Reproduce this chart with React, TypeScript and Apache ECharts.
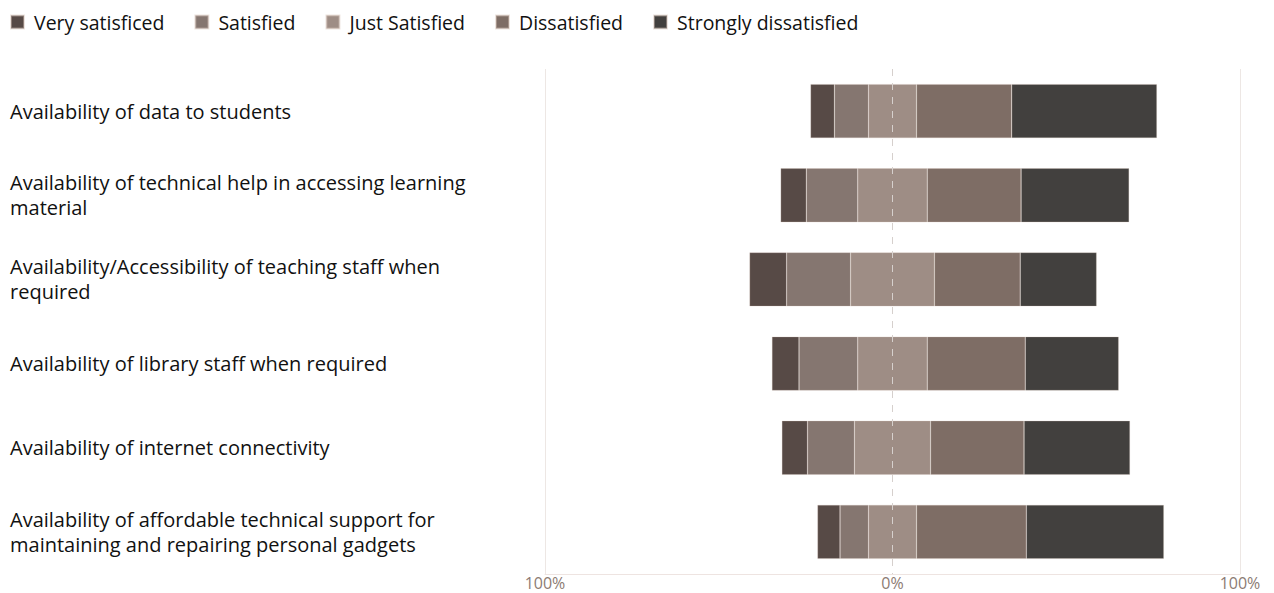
import React, { useEffect, useRef } from "react";
import * as echarts from "echarts";

const categories = [
  "Availability of data to students",
  "Availability of technical help in accessing learning material",
  "Availability/Accessibility of teaching staff when required",
  "Availability of library staff when required",
  "Availability of internet connectivity",
  "Availability of affordable technical support for maintaining and repairing personal gadgets",
];

const seriesNames = [
  "Very satisficed",
  "Satisfied",
  "Just Satisfied",
  "Dissatisfied",
  "Strongly dissatisfied",
];

const verySatisfied = [6.9, 7.4, 10.7, 7.8, 7.4, 6.5];
const satisfied = [9.8, 14.8, 18.4, 16.9, 13.5, 8.2];
const justSatisfied = [13.8, 20.0, 24.1, 20.0, 21.9, 13.8];
const dissatisfied = [27.4, 27.0, 24.7, 28.2, 26.9, 31.6];
const stronglyDissatisfied = [41.8, 31.1, 22.0, 26.9, 30.5, 39.6];

const tickLabels = ["100%", "0%", "100%"];

const colors = ["#574a46", "#857670", "#9e8d85", "#7e6d65", "#42403e"];

export default function App() {
  const ref = useRef<HTMLDivElement>(null);
  useEffect(() => {
    if (!ref.current) return;
    const chart = echarts.init(ref.current, undefined, { renderer: "svg" });
    const values = [verySatisfied, satisfied, justSatisfied, dissatisfied, stronglyDissatisfied];
    const offset = categories.map(
      (_, i) => -(verySatisfied[i] + satisfied[i] + justSatisfied[i] / 2)
    );
    const font = "'Open Sans', 'Noto Sans', sans-serif";
    const series: any[] = [
      {
        name: "offset",
        type: "bar",
        stack: "total",
        stackStrategy: "all",
        barWidth: 54,
        data: offset,
        itemStyle: { color: "rgba(0,0,0,0)" },
        silent: true,
        markLine: {
          silent: true,
          symbol: "none",
          label: { show: false },
          lineStyle: { type: [7, 7], color: "#d6d0cd", width: 1 },
          data: [{ xAxis: 0 }],
        },
      },
    ];
    seriesNames.forEach((name, k) => {
      series.push({
        name,
        type: "bar",
        stack: "total",
        stackStrategy: "all",
        barWidth: 54,
        data: values[k],
        itemStyle: {
          color: colors[k],
          borderColor: "rgba(215,195,185,0.45)",
          borderWidth: 0.6,
        },
      });
    });
    chart.setOption({
      animation: false,
      legend: {
        data: seriesNames,
        left: 10,
        top: 12,
        padding: 0,
        icon: "rect",
        itemWidth: 13,
        itemHeight: 13,
        itemGap: 30,
        textStyle: { fontSize: 19.5, color: "#111", fontFamily: font, padding: [0, 0, 0, 5] },
      },
      grid: { left: 545, right: 34, top: 69, bottom: 19, containLabel: false },
      xAxis: {
        type: "value",
        min: -100,
        max: 100,
        interval: 100,
        axisLine: { show: true, lineStyle: { color: "#eee4e1" } },
        axisTick: { show: false },
        splitLine: {
          show: true,
          lineStyle: { color: ["#ede7e4", "rgba(0,0,0,0)", "#ede7e4"] },
        },
        axisLabel: {
          formatter: (v: number) => tickLabels[Math.round((v + 100) / 100)],
          color: "#8c7b73",
          fontSize: 16,
          lineHeight: 14,
          fontFamily: font,
          margin: 2,
        },
      },
      yAxis: {
        type: "category",
        inverse: true,
        data: categories,
        axisLine: { show: false },
        axisTick: { show: false },
        axisLabel: {
          align: "left",
          margin: 535,
          fontSize: 20,
          lineHeight: 25,
          color: "#111",
          fontFamily: font,
          width: 462,
          overflow: "break",
          padding: [6, 0, 0, 0],
        },
      },
      series,
    });
    return () => chart.dispose();
  }, []);
  return <div ref={ref} style={{ width: 1274, height: 593, position: "absolute", left: 0, top: 0 }} />;
}
